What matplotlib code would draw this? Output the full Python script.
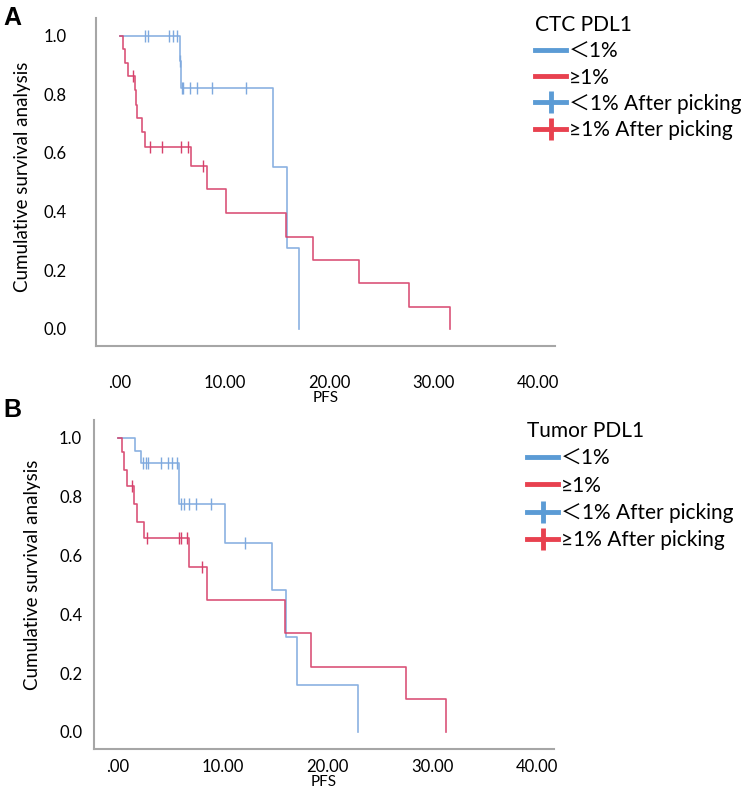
import numpy as np
import matplotlib.pyplot as plt
from matplotlib.lines import Line2D

plt.rcParams['font.family'] = ['Lato', 'Noto Sans CJK SC', 'DejaVu Sans']

# Panel A - CTC PDL1 (step times / survival after each step)
a_low_t = [0, 5.75, 5.85, 14.6, 16.0, 17.1]
a_low_s = [1.0, 0.915, 0.823, 0.551, 0.275, 0.0]
a_low_ct = [2.4, 2.7, 4.7, 5.1, 5.45, 5.8, 5.95, 6.0, 6.7, 7.4, 8.8, 12.1]
a_low_cs = [1, 1, 1, 1, 1, 0.915, 0.823, 0.823, 0.823, 0.823, 0.823, 0.823]

a_high_t = [0, 0.3, 0.5, 0.75, 1.5, 1.55, 1.6, 2.1, 2.4, 6.8, 8.3, 10.15,
            15.9, 18.5, 22.9, 27.6, 31.6]
a_high_s = [1.0, 0.955, 0.908, 0.864, 0.813, 0.765, 0.718, 0.67, 0.622, 0.554,
            0.476, 0.395, 0.313, 0.235, 0.156, 0.075, 0.0]
a_high_ct = [1.25, 2.9, 4.0, 5.85, 6.5, 7.95]
a_high_cs = [0.864, 0.622, 0.622, 0.622, 0.622, 0.554]

# Panel B - Tumor PDL1
b_low_t = [0, 1.6, 2.2, 5.8, 10.2, 14.7, 16.0, 17.1, 22.9]
b_low_s = [1.0, 0.956, 0.915, 0.775, 0.643, 0.483, 0.323, 0.16, 0.0]
b_low_ct = [2.4, 2.7, 2.9, 4.1, 4.8, 5.1, 5.6, 6.0, 6.3, 6.8, 7.4, 8.9, 12.1]
b_low_cs = [0.915] * 7 + [0.775] * 5 + [0.643]

b_high_t = [0, 0.4, 0.55, 0.85, 1.5, 1.8, 2.5, 6.8, 8.5, 15.9, 18.4, 27.5, 31.3]
b_high_s = [1.0, 0.95, 0.891, 0.837, 0.775, 0.714, 0.66, 0.561, 0.449, 0.337,
            0.221, 0.112, 0.0]
b_high_ct = [1.3, 2.8, 5.8, 6.0, 6.6, 8.0]
b_high_cs = [0.837, 0.66, 0.66, 0.66, 0.66, 0.561]

x_ticks = [0, 10, 20, 30, 40]
x_labels = ['.00', '10.00', '20.00', '30.00', '40.00']
y_ticks = [0.0, 0.2, 0.4, 0.6, 0.8, 1.0]
legend_labels = ['\uff1c1%', '\u22651%', '\uff1c1% After picking', '\u22651% After picking']

curve_blue = '#7fa9de'
curve_red = '#d7416b'
leg_blue = '#5b9bd5'
leg_red = '#e8414f'

fig = plt.figure(figsize=(7.5, 7.89), dpi=100)
W, H = 750, 789


def px_axes(l, t, r, b):
    return fig.add_axes([l / W, 1 - b / H, (r - l) / W, (b - t) / H])


def draw_panel(ax, low, high, title, ytick_pad, xtick_pad, ylab_x, ylab_y, leg_xy, spacing):
    for (t, s, ct, cs), col in [(low, curve_blue), (high, curve_red)]:
        ax.step(t, s, where='post', color=col, lw=1.2, alpha=0.9)
        ax.plot(ct, cs, ls='none', marker='|', ms=8, mew=1.0, color=col)
    ax.set_xlim(-2.3, 41.6)
    ax.set_ylim(-0.058, 1.06)
    ax.set_xticks(x_ticks)
    ax.set_xticklabels(x_labels)
    ax.set_yticks(y_ticks)
    ax.set_yticklabels([f'{v:.1f}' for v in y_ticks])
    ax.tick_params(axis='y', length=0, pad=ytick_pad, labelsize=12)
    ax.tick_params(axis='x', length=0, pad=xtick_pad, labelsize=12)
    for sp in ['top', 'right']:
        ax.spines[sp].set_visible(False)
    for sp in ['left', 'bottom']:
        ax.spines[sp].set_color('#a6a6a6')
        ax.spines[sp].set_linewidth(1.5)
    ax.set_ylabel('Cumulative survival analysis', fontsize=13.5)
    ax.yaxis.set_label_coords(ylab_x, ylab_y)
    ax.set_xlabel('PFS', fontsize=11, labelpad=0)

    handles = [
        Line2D([], [], color=leg_blue, lw=3.5),
        Line2D([], [], color=leg_red, lw=3.5),
        Line2D([], [], color=leg_blue, lw=3.5, marker='|', ms=16, mew=3.5),
        Line2D([], [], color=leg_red, lw=3.5, marker='|', ms=16, mew=3.5),
    ]
    leg = ax.legend(handles, legend_labels, title=title, loc='upper left',
                    bbox_to_anchor=(leg_xy[0] / W, 1 - leg_xy[1] / H),
                    bbox_transform=fig.transFigure, frameon=False,
                    fontsize=15, title_fontsize=15, handlelength=1.5,
                    handletextpad=0.12, labelspacing=spacing, borderaxespad=0,
                    borderpad=0, alignment='left')
    return leg


ax_a = px_axes(95.7, 18, 555, 346)
draw_panel(ax_a, (a_low_t, a_low_s, a_low_ct, a_low_cs),
           (a_high_t, a_high_s, a_high_ct, a_high_cs),
           'CTC PDL1', 21, 21, -0.141, 0.515, (535, 15), 0.3)

ax_b = px_axes(94, 420, 554, 749)
draw_panel(ax_b, (b_low_t, b_low_s, b_low_ct, b_low_cs),
           (b_high_t, b_high_s, b_high_ct, b_high_cs),
           'Tumor PDL1', 8.5, 7, -0.115, 0.53, (527, 421), 0.35)

fig.text(3 / W, 1 - 18 / H, 'A', fontsize=18, fontweight='bold',
         family='Liberation Sans', va='center', ha='left')
fig.text(3 / W, 1 - 410 / H, 'B', fontsize=18, fontweight='bold',
         family='Liberation Sans', va='center', ha='left')

fig.savefig('out.png', dpi=100)
